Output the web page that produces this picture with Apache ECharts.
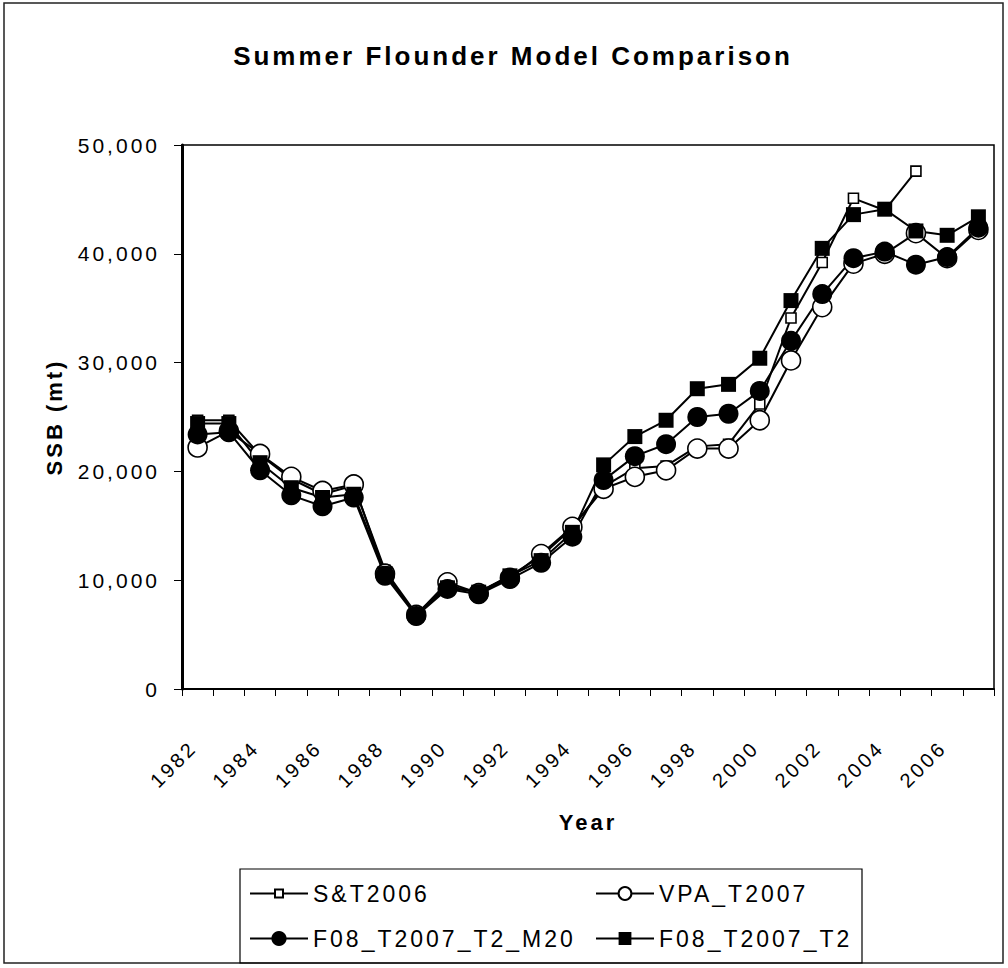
<!DOCTYPE html>
<html>
<head>
<meta charset="utf-8">
<title>Summer Flounder Model Comparison</title>
<script src="https://cdn.jsdelivr.net/npm/echarts@6/dist/echarts.min.js"></script>
<style>
  html, body { margin: 0; padding: 0; background: #fff; }
  #chart { width: 1008px; height: 968px; }
  /* spread the glyphs out a little, like the original spreadsheet export */
  #chart svg text { letter-spacing: 3px; }
</style>
</head>
<body>
<div id="chart"></div>
<script>
// Spawning stock biomass (mt) by year, four assessment runs
const years = ['1982','1983','1984','1985','1986','1987','1988','1989','1990','1991','1992','1993','1994',
               '1995','1996','1997','1998','1999','2000','2001','2002','2003','2004','2005','2006','2007'];

const st2006 = [24700, 24700, 21500, 19300, 17900, 18700, 10900, 6900, 9500, 8900, 10400, 12200, 14800,
                18600, 20300, 20500, 22300, 22500, 26200, 34100, 39200, 45100, 44000, 47600, null, null];

const vpaT2007 = [22200, 23700, 21600, 19500, 18200, 18800, 10600, 6800, 9800, 8800, 10200, 12400, 14900,
                  18400, 19500, 20100, 22100, 22100, 24700, 30200, 35100, 39100, 40000, 41900, 39600, 42200];

const f08M20 = [23400, 23600, 20100, 17800, 16800, 17600, 10400, 6700, 9200, 8700, 10100, 11600, 14000,
                19200, 21400, 22500, 25000, 25300, 27400, 32000, 36300, 39600, 40200, 39000, 39700, 42400];

const f08T2 = [24400, 24400, 20800, 18500, 17600, 17900, 10600, 6800, 9300, 8900, 10400, 11800, 14400,
               20600, 23200, 24700, 27600, 28000, 30400, 35700, 40500, 43600, 44100, 42100, 41700, 43400];

const seriesNames = ['S&T2006', 'VPA_T2007', 'F08_T2007_T2_M20', 'F08_T2007_T2'];

const FONT = 'Liberation Sans, Arial, sans-serif';

const chart = echarts.init(document.getElementById('chart'), null, { renderer: 'svg' });

function lineSeries(name, data, symbol, size, fill) {
  return {
    name: name,
    type: 'line',
    data: data,
    symbol: symbol,
    symbolSize: size,
    showAllSymbol: true,
    connectNulls: false,
    lineStyle: { color: '#000', width: 2 },
    itemStyle: { color: fill, borderColor: '#000', borderWidth: fill === '#000' ? 0 : 1.6, opacity: 1 },
    emphasis: { disabled: true }
  };
}

// one legend block per entry so the two columns line up
function legendItem(name, left, rowCenter, iconH) {
  return {
    data: [name],
    orient: 'vertical',
    left: left,
    top: rowCenter - 11,
    padding: 0,
    itemWidth: 58,
    itemHeight: iconH,
    selectedMode: false,
    textStyle: { fontFamily: FONT, fontSize: 23, color: '#000', lineHeight: 22 }
  };
}

const option = {
  animation: false,
  backgroundColor: '#fff',
  title: {
    text: 'Summer Flounder Model Comparison',
    left: 508,
    top: 38,
    textAlign: 'center',
    textStyle: { fontFamily: FONT, fontSize: 26, fontWeight: 'bold', color: '#000' }
  },
  graphic: [
    { type: 'rect', shape: { x: 4, y: 3, width: 999, height: 960 },
      style: { fill: 'none', stroke: '#222', lineWidth: 1.5 }, silent: true, z: -10 },
    { type: 'rect', shape: { x: 240, y: 869, width: 622, height: 94 },
      style: { fill: 'none', stroke: '#000', lineWidth: 1.2 }, silent: true, z: -5 }
  ],
  legend: [
    legendItem(seriesNames[0], 249, 893, 10),
    legendItem(seriesNames[1], 595, 893, 16),
    legendItem(seriesNames[2], 249, 938, 19),
    legendItem(seriesNames[3], 595, 938, 16)
  ],
  grid: {
    left: 182, top: 145, width: 812, height: 544,
    show: true, borderColor: '#000', borderWidth: 1.5, backgroundColor: '#fff'
  },
  xAxis: {
    type: 'category',
    data: years,
    boundaryGap: true,
    name: 'Year',
    nameLocation: 'middle',
    nameGap: 122,
    nameTextStyle: { fontFamily: FONT, fontSize: 22, fontWeight: 'bold', color: '#000' },
    axisLine: { show: true, lineStyle: { color: '#000', width: 2 } },
    axisTick: { show: true, interval: 0, length: 7, lineStyle: { color: '#000', width: 1 } },
    axisLabel: {
      interval: 1, rotate: 45, margin: 51, padding: [0, 6, 0, 0],
      fontFamily: FONT, fontSize: 20, color: '#000'
    },
    splitLine: { show: false }
  },
  yAxis: {
    type: 'value',
    min: 0, max: 50000, interval: 10000,
    name: 'SSB (mt)',
    nameLocation: 'middle',
    nameRotate: 90,
    nameGap: 117,
    nameTextStyle: { fontFamily: FONT, fontSize: 22, fontWeight: 'bold', color: '#000' },
    axisLine: { show: true, lineStyle: { color: '#000', width: 3 } },
    axisTick: { show: true, length: 8, lineStyle: { color: '#000', width: 1 } },
    axisLabel: {
      margin: 22, fontFamily: FONT, fontSize: 21, color: '#000',
      formatter: v => v.toLocaleString('en-US')
    },
    splitLine: { show: false }
  },
  series: [
    lineSeries(seriesNames[0], st2006, 'rect', 10, '#fff'),
    lineSeries(seriesNames[1], vpaT2007, 'circle', 19, '#fff'),
    lineSeries(seriesNames[2], f08M20, 'circle', 20, '#000'),
    lineSeries(seriesNames[3], f08T2, 'rect', 15, '#000')
  ]
};

chart.setOption(option);
</script>
</body>
</html>
